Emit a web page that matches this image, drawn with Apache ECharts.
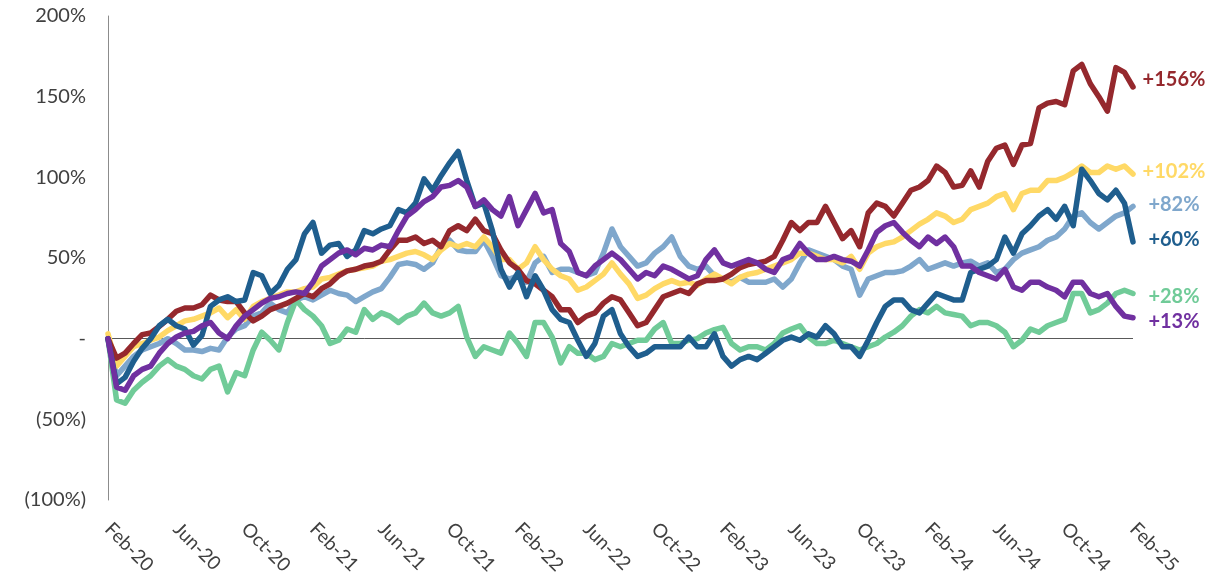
<!DOCTYPE html>
<html>
<head>
<meta charset="utf-8">
<script src="https://cdn.jsdelivr.net/npm/echarts@6/dist/echarts.min.js"></script>
<style>
  html, body { margin: 0; padding: 0; background: #ffffff; }
  #chart { width: 1229px; height: 583px; }
</style>
</head>
<body>
<div id="chart"></div>
<script>
// Tick labels (every 4 months), one category per half-month from Feb-20 to Feb-25
const monthNames = ['Jan','Feb','Mar','Apr','May','Jun','Jul','Aug','Sep','Oct','Nov','Dec'];
const tickLabels = ['Feb-20','Jun-20','Oct-20','Feb-21','Jun-21','Oct-21','Feb-22','Jun-22','Oct-22','Feb-23','Jun-23','Oct-23','Feb-24','Jun-24','Oct-24','Feb-25'];

// Series values (% change since Feb-20), sampled twice a month
const redSeries = [0,-12,-9,-3,2.5,3.5,7.6,12,17,19,19,21,27,24,23,23,16,11,14,18,20,22,25,28,26,31,34,39,42,43,45,46,48,55,61,61,63,59,61,57,67,70,67,74,67,65,55,47,43,36,34,30,26,18,18,10,14,16,22,26,24,16,8,10,18,26,28,30,28,34,36,36,37,40,44,46,47,48,51,61,72,67,72,72,82,72,62,67,57,78,84,82,76,84,92,94,98,107,103,94,95,104,94,110,118,120,108,120,121,143,146,147,145,166,170,158,150,141,168,165,156];
const yellowSeries = [3,-17,-11,-5,-3,-1,1,5,8,11,12,14,16,19,13,18,12,20,23,25,27,29,29,31,32,37,38,40,42,43,44,45,48,49,51,53,54,52,49,55,59,57,59,57,63,57,49,49,43,47,57,49,43,39,37,30,32,36,40,47,40,34,25,27,31,34,36,34,35,33,37,40,37,34,38,40,41,43,45,47,49,53,53,51,49,49,47,51,43,53,57,59,60,63,67,71,74,78,76,72,74,80,82,84,88,90,80,90,92,92,98,98,100,103,107,103,103,107,105,107,102];
const lightBlueSeries = [0,-23,-17,-11,-7,-5,-3,0,-3,-7,-7,-8,-6,-7,1,6,8,14,16,22,18,16,24,26,24,27,30,28,27,23,26,29,31,38,46,47,46,43,47,57,61,55,54,54,61,51,39,37,39,35,47,51,41,43,43,41,39,41,53,68,57,51,45,47,53,57,63,51,45,43,45,39,37,35,38,35,35,35,37,32,37,47,55,53,51,49,45,43,27,37,39,41,41,42,45,49,43,45,47,45,47,48,45,47,41,43,49,53,55,57,61,63,68,76,78,72,68,72,76,78,82];
const darkBlueSeries = [0,-28,-24,-14,-6,0,8,12,8,6,-4,2,20,24,26,23,24,41,39,28,33,43,49,65,72,53,58,59,51,55,67,65,68,70,80,78,84,99,92,101,109,116,98,82,84,67,43,32,41,26,39,30,18,12,10,-1,-11,-3,14,18,3,-5,-11,-9,-5,-5,-5,-5,1,-5,-5,3,-11,-17,-13,-11,-13,-9,-5,-1,1,-1,3,1,8,3,-5,-5,-11,-1,10,20,24,24,18,16,22,28,26,24,24,41,43,45,49,63,53,65,70,76,80,74,82,70,105,98,90,86,92,84,60];
const greenSeries = [0,-38,-40,-32,-27,-23,-17,-13,-17,-19,-23,-25,-19,-17,-33,-21,-23,-7,4,-1,-7,10,24,18,14,8,-3,-1,6,4,18,12,16,14,10,14,16,22,16,14,16,20,1,-11,-5,-7,-9,3.5,-3,-11,10,10,1,-15,-5,-9,-9,-13,-11,-3,-5,-3,-1,-1,6,10,-3,-3,-1,0,3.5,5.6,7,-3,-7,-5,-5,-7,-3,3.5,6,8,1,-3,-3,-1,-3,-5,-7,-5,-3,1,4,8,14,18,16,20,16,15,14,8,10,10,8,4,-5,-1,6,4,8,10,12,28,28,16,18,22,28,30,28];
const purpleSeries = [0,-30,-32,-23,-19,-17,-9,-3,1,3.5,4.5,8,10,3.5,0,8,14,18,22,25,26,28,29,28,35,45,49,53,55,52,56,55,58,57,67,76,80,85,88,94,95,98,94,82,86,80,76,88,70,80,90,78,80,59,54,41,39,45,49,53,49,43,37,41,39,45,43,40,37,39,49,55,47,45,47,49,47,43,41,49,51,59,53,49,49,51,49,48,45,55,66,70,72,66,61,57,63,59,63,57,45,45,41,39,37,43,32,30,35,35,32,30,26,35,35,28,26,28,20,14,13];

// Category axis: one entry per half-month
const categories = [];
for (let i = 0; i < redSeries.length; i++) {
  const m = 1 + Math.floor(i / 2);           // months since Jan-20
  const mon = monthNames[m % 12];
  const yy = String(20 + Math.floor(m / 12));
  categories.push(i % 2 === 0 ? mon + '-' + yy : mon + '-' + yy + ' mid');
}

const FONT = 'Lato, "Liberation Sans", sans-serif';

function mkSeries(name, data, color, labelDy, z) {
  return {
    name: name,
    type: 'line',
    data: data,
    symbol: 'none',
    smooth: false,
    z: z,
    lineStyle: { color: color, width: 5.5, join: 'round', cap: 'round' },
    itemStyle: { color: color },
    emphasis: { disabled: true },
    endLabel: {
      show: true,
      formatter: function (p) { return '+' + p.value + '%'; },
      color: color,
      fontFamily: FONT,
      fontWeight: 'bold',
      fontSize: 20,
      align: 'center',
      distance: 41,
      offset: [0, labelDy]
    }
  };
}

const chart = echarts.init(document.getElementById('chart'), null, { renderer: 'canvas' });
const series = [
  mkSeries('Light blue', lightBlueSeries, '#7FA7CC', -2, 2),
  mkSeries('Green', greenSeries, '#70CB98', 3, 3),
  mkSeries('Yellow', yellowSeries, '#FFD966', -3, 4),
  mkSeries('Red', redSeries, '#95282D', -7, 5),
  mkSeries('Dark blue', darkBlueSeries, '#1F5E8E', -2, 6),
  mkSeries('Purple', purpleSeries, '#7030A0', 4, 7)
];
series[0].markLine = {
  silent: true,
  symbol: 'none',
  z: 1,
  label: { show: false },
  lineStyle: { color: '#595959', width: 1, type: 'solid' },
  data: [{ yAxis: 0 }]
};

chart.setOption({
  animation: false,
  backgroundColor: '#ffffff',
  grid: { left: 108, right: 96, top: 16, bottom: 83, containLabel: false },
  xAxis: {
    type: 'category',
    data: categories,
    boundaryGap: false,
    axisLine: { show: false },
    axisTick: { show: false },
    splitLine: { show: false },
    axisLabel: {
      interval: 7,
      rotate: -45,
      margin: 26,
      color: '#404040',
      fontFamily: FONT,
      fontSize: 19,
      formatter: function (v, idx) { return tickLabels[idx / 8] || v; }
    }
  },
  yAxis: {
    type: 'value',
    min: -100,
    max: 200,
    interval: 50,
    axisLine: { show: true, lineStyle: { color: '#8C8C8C', width: 1 } },
    axisTick: { show: false },
    splitLine: { show: false },
    axisLabel: {
      margin: 22,
      color: '#404040',
      fontFamily: FONT,
      fontSize: 20,
      formatter: function (v) {
        if (v === 0) return '-';
        if (v < 0) return '(' + (-v) + '%)';
        return v + '%';
      }
    }
  },
  series: series
});
</script>
</body>
</html>
